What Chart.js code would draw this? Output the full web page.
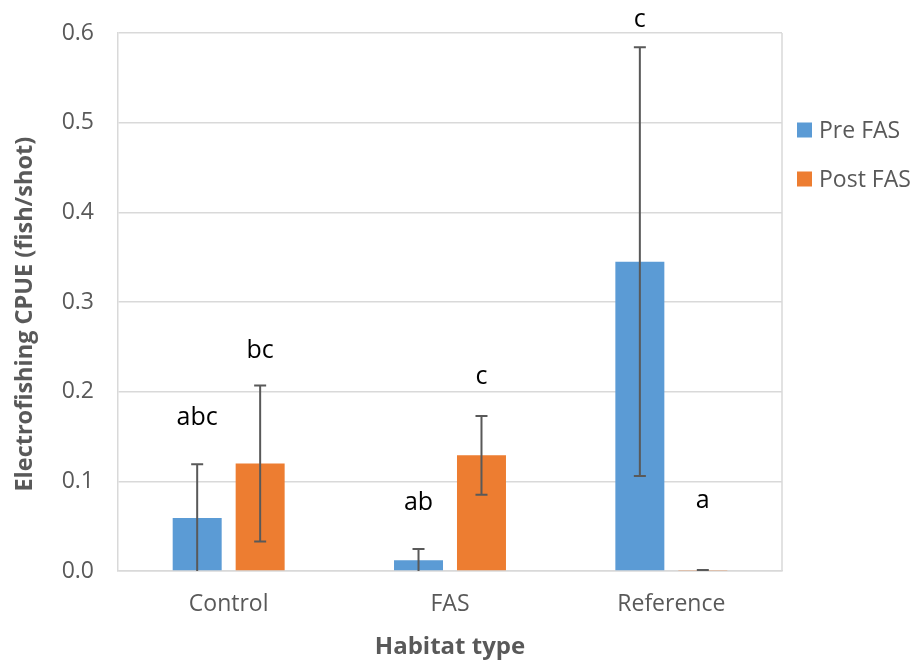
<!DOCTYPE html>
<html lang="en">
<head>
<meta charset="UTF-8">
<title>Electrofishing CPUE by habitat type</title>
<script src="https://cdn.jsdelivr.net/npm/chart.js"></script>
<style>
    html, body { margin: 0; padding: 0; background: #ffffff; }
    #wrap { width: 911px; height: 663px; }
</style>
</head>
<body>
<div id="wrap"><canvas id="cpueChart"></canvas></div>
<script>
// data
const habitats = ['Control', 'FAS', 'Reference'];
const preFAS = [0.059, 0.012, 0.345];
const postFAS = [0.120, 0.129, 0.001];
const preErr = [0.060, 0.0125, 0.239];
const postErr = [0.087, 0.044, 0];
const preLetters = ['abc', 'ab', 'c'];
const postLetters = ['bc', 'c', 'a'];
// height (in CPUE units) where each letter sits
const preLetterAt = [0.171, 0.076, 0.615];
const postLetterAt = [0.245, 0.217, 0.078];
const yTicks = [0, 0.1, 0.2, 0.3, 0.4, 0.5, 0.6];

const grey = '#595959';
const gridGrey = '#d9d9d9';
const font = '"Open Sans", "Liberation Sans", sans-serif';

const errors = [preErr, postErr];
const letters = [preLetters, postLetters];
const letterAt = [preLetterAt, postLetterAt];

// error bars, significance letters, right frame line and legend
const extras = {
    id: 'extras',
    afterDatasetsDraw(chart) {
        const ctx = chart.ctx;
        const y = chart.scales.y;
        const area = chart.chartArea;

        ctx.save();
        // right frame line
        ctx.strokeStyle = gridGrey;
        ctx.lineWidth = 1.5;
        ctx.beginPath();
        ctx.moveTo(area.right, area.top);
        ctx.lineTo(area.right, area.bottom);
        ctx.stroke();

        chart.data.datasets.forEach((ds, di) => {
            const meta = chart.getDatasetMeta(di);
            meta.data.forEach((bar, i) => {
                const v = ds.data[i];
                const e = errors[di][i];
                const x = bar.x;
                const hi = v + e;
                const lo = v - e;
                const yHi = y.getPixelForValue(hi);
                const yLo = y.getPixelForValue(Math.max(lo, 0));
                ctx.strokeStyle = grey;
                ctx.lineWidth = 2;
                ctx.beginPath();
                ctx.moveTo(x, yHi);
                ctx.lineTo(x, yLo);
                ctx.moveTo(x - 6, yHi);
                ctx.lineTo(x + 6, yHi);
                if (lo >= 0) {
                    ctx.moveTo(x - 6, yLo);
                    ctx.lineTo(x + 6, yLo);
                }
                ctx.stroke();

                ctx.fillStyle = '#000000';
                ctx.font = '25px ' + font;
                ctx.textAlign = 'center';
                ctx.textBaseline = 'middle';
                ctx.fillText(letters[di][i], x, y.getPixelForValue(letterAt[di][i]));
            });
        });

        // legend
        ctx.font = '23px ' + font;
        ctx.textAlign = 'left';
        ctx.textBaseline = 'middle';
        chart.data.datasets.forEach((ds, di) => {
            const cy = 130 + di * 49;
            ctx.fillStyle = ds.backgroundColor;
            ctx.fillRect(797, cy - 7.5, 15, 15);
            ctx.fillStyle = grey;
            ctx.fillText(ds.label, 819, cy + 1);
        });
        ctx.restore();
    }
};

new Chart(document.getElementById('cpueChart'), {
    type: 'bar',
    data: {
        labels: habitats,
        datasets: [{
            label: 'Pre FAS',
            data: preFAS,
            backgroundColor: '#5b9bd5'
        }, {
            label: 'Post FAS',
            data: postFAS,
            backgroundColor: '#ed7d31'
        }]
    },
    options: {
        responsive: true,
        maintainAspectRatio: false,
        animation: false,
        categoryPercentage: 0.569,
        barPercentage: 0.778,
        layout: { padding: { top: 33, right: 129, left: 0, bottom: 0 } },
        plugins: {
            legend: { display: false },
            tooltip: { enabled: false }
        },
        scales: {
            x: {
                grid: { display: false, drawTicks: false },
                border: { display: true, color: gridGrey, width: 1.5 },
                ticks: { color: grey, font: { family: font, size: 23 }, padding: 20 },
                title: {
                    display: true,
                    text: 'Habitat type',
                    color: grey,
                    font: { family: font, size: 24, weight: 'bold' },
                    padding: { top: 0, bottom: 1 }
                },
                afterFit(scale) { scale.height = 92; }
            },
            y: {
                min: 0,
                max: 0.6,
                afterBuildTicks(scale) { scale.ticks = yTicks.map(v => ({ value: v })); },
                grid: { color: gridGrey, lineWidth: 1.5, drawTicks: false },
                border: { display: true, color: gridGrey, width: 1.5 },
                ticks: {
                    color: grey,
                    font: { family: font, size: 23 },
                    padding: 24,
                    callback: v => v.toFixed(1)
                },
                title: {
                    display: true,
                    // trailing spaces nudge the rotated title down a little, as in the original
                    text: 'Electrofishing CPUE (fish/shot)    ',
                    color: grey,
                    font: { family: font, size: 23.5, weight: 'bold' },
                    padding: { top: 11, bottom: 0 }
                },
                afterFit(scale) {
                    scale.width = 118;
                    scale.paddingTop = 0;
                    scale.paddingBottom = 0;
                }
            }
        }
    },
    plugins: [extras]
});
</script>
</body>
</html>
